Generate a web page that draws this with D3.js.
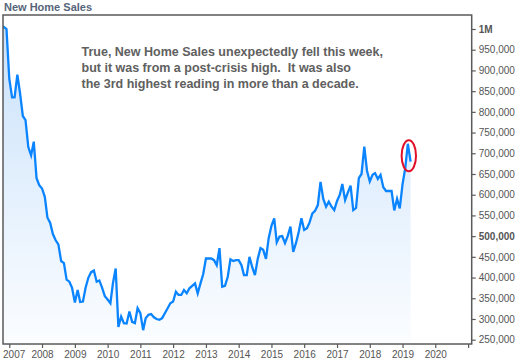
<!DOCTYPE html>
<html><head><meta charset="utf-8">
<script src="https://cdn.jsdelivr.net/npm/d3@7"></script>
<style>body{margin:0;background:#fff}svg{display:block}</style>
</head><body>
<svg id="c" width="524" height="361"></svg>
<script>
// New home sales, thousands (SAAR), monthly
const s2006 = [1000, 1005, 1000]; // Oct-Dec
const s2007 = [880, 835, 835, 890, 845, 790, 780, 715, 695, 728, 640, 623];
const s2008 = [615, 595, 545, 532, 505, 490, 480, 440, 435, 395, 390, 375];
const s2009 = [340, 370, 341, 342, 376, 400, 413, 417, 390, 393, 375, 355];
const s2010 = [347, 338, 386, 422, 281, 306, 290, 289, 318, 293, 290, 326];
const s2011 = [314, 273, 302, 310, 312, 304, 300, 298, 302, 314, 326, 338];
const s2012 = [342, 366, 358, 358, 370, 362, 374, 380, 386, 362, 386, 408];
const s2013 = [446, 446, 446, 442, 430, 471, 378, 380, 402, 444, 440, 442];
const s2014 = [442, 430, 406, 406, 450, 425, 406, 445, 471, 467, 445, 495];
const s2015 = [525, 543, 485, 499, 500, 483, 500, 523, 462, 483, 510, 543];
const s2016 = [515, 519, 533, 555, 561, 575, 631, 590, 571, 583, 571, 563];
const s2017 = [585, 600, 626, 587, 605, 622, 563, 568, 640, 650, 716, 658];
const s2018 = [632, 648, 652, 638, 648, 618, 609, 609, 609, 562, 590, 567];
const s2019 = [625, 665, 723, 680];

const yTicks = [250000, 300000, 350000, 400000, 450000, 500000, 550000, 600000, 650000, 700000, 750000, 800000, 850000, 900000, 950000, 1000000];
const yTickLabels = ["250,000", "300,000", "350,000", "400,000", "450,000", "500,000", "550,000", "600,000", "650,000", "700,000", "750,000", "800,000", "850,000", "900,000", "950,000", "1M"];
const boldLabels = ["1M", "500,000"];
const xYears = [2007, 2008, 2009, 2010, 2011, 2012, 2013, 2014, 2015, 2016, 2017, 2018, 2019, 2020, 2021];
const xYearLabels = ["2007", "2008", "2009", "2010", "2011", "2012", "2013", "2014", "2015", "2016", "2017", "2018", "2019", "2020", ""];
const title = "New Home Sales";
const noteLines = [
  "True, New Home Sales unexpectedly fell this week,",
  "but it was from a post-crisis high.  It was also",
  "the 3rd highest reading in more than a decade."
];

const series = [
  [2006, 9, s2006], [2007, 0, s2007], [2008, 0, s2008], [2009, 0, s2009], [2010, 0, s2010],
  [2011, 0, s2011], [2012, 0, s2012], [2013, 0, s2013], [2014, 0, s2014], [2015, 0, s2015],
  [2016, 0, s2016], [2017, 0, s2017], [2018, 0, s2018], [2019, 0, s2019]
];
const data = [];
series.forEach(([yr, m0, arr]) => arr.forEach((v, i) => data.push({date: new Date(yr, m0 + i, 1), value: v * 1000})));

const svg = d3.select("#c");
const L = 3, T = 15, R = 471.7, B = 344;
const font = "'Liberation Sans', Arial, sans-serif";

const x = d3.scaleTime().domain([new Date(2006, 9, 23), new Date(2021, 1, 10)]).range([L, R]);
const y = d3.scaleLinear().domain([239600, 1033800]).range([B, T]);

const defs = svg.append("defs");
const grad = defs.append("linearGradient").attr("id", "g").attr("gradientUnits", "userSpaceOnUse")
  .attr("x1", 0).attr("x2", 0).attr("y1", T).attr("y2", B);
grad.append("stop").attr("offset", 0).attr("stop-color", "#c8e0fa");
grad.append("stop").attr("offset", 0.5).attr("stop-color", "#e2effd");
grad.append("stop").attr("offset", 1).attr("stop-color", "#fbfdff");
defs.append("clipPath").attr("id", "clip").append("rect").attr("x", L).attr("y", T).attr("width", R - L).attr("height", B - T);

const plot = svg.append("g").attr("clip-path", "url(#clip)");
plot.append("path").datum(data)
  .attr("d", d3.area().x(d => x(d.date)).y0(B).y1(d => y(d.value)))
  .attr("fill", "url(#g)");
plot.append("path").datum(data)
  .attr("d", d3.line().x(d => x(d.date)).y(d => y(d.value)))
  .attr("fill", "none").attr("stroke", "#0a84ff").attr("stroke-width", 2.3).attr("stroke-linejoin", "miter");

// frame
svg.append("rect").attr("x", L).attr("y", T).attr("width", R - L).attr("height", B - T)
  .attr("fill", "none").attr("stroke", "#5a5a5a").attr("stroke-width", 1.5);

// right axis
const ya = svg.append("g").attr("transform", `translate(${R},0)`)
  .call(d3.axisRight(y).tickValues(yTicks).tickSize(4).tickPadding(3)
    .tickFormat((d, i) => yTickLabels[i]));
ya.select(".domain").remove();
ya.selectAll("line").attr("stroke", "#5a5a5a").attr("stroke-width", 1.2);
ya.selectAll("text").attr("font-family", font).attr("font-size", 10).attr("fill", "#555")
  .attr("font-weight", d => boldLabels.includes(yTickLabels[yTicks.indexOf(d)]) ? "bold" : "normal");

// bottom axis
const xa = svg.append("g").attr("transform", `translate(0,${B})`)
  .call(d3.axisBottom(x).tickValues(xYears.map(yr => new Date(yr, 0, 1))).tickSize(4).tickPadding(3)
    .tickFormat((d, i) => xYearLabels[i]));
xa.select(".domain").remove();
xa.selectAll("line").attr("stroke", "#5a5a5a").attr("stroke-width", 1.2);
xa.selectAll("text").attr("font-family", font).attr("font-size", 10).attr("fill", "#555");
xa.selectAll("text").each(function() {
  const bb = this.getBBox();
  const tx = +this.parentNode.getAttribute("transform").match(/translate\(([^,]+)/)[1];
  if (tx + bb.x < 3) d3.select(this).attr("x", 3 - tx - bb.x);
});

// title
svg.append("text").attr("x", 4).attr("y", 10.5).text(title)
  .attr("font-family", font).attr("font-size", 11).attr("font-weight", "bold").attr("fill", "#56657a");

// annotation
svg.append("g").selectAll("text").data(noteLines).join("text")
  .attr("x", 81.5).attr("y", (d, i) => 55.5 + i * 16).text(d => d)
  .attr("font-family", font).attr("font-size", 12.5).attr("font-weight", "bold").attr("fill", "#606060")
  .style("white-space", "pre").attr("xml:space", "preserve");

// highlight ring around latest readings
const peak = data.reduce((a, b) => (b.date.getFullYear() === 2019 && b.value > a.value ? b : a), {value: 0});
svg.append("ellipse").attr("cx", x(peak.date) + 1).attr("cy", y(peak.value) + 12)
  .attr("rx", 7.2).attr("ry", 15.5).attr("fill", "none").attr("stroke", "#e0102a").attr("stroke-width", 2);
</script>
</body></html>
